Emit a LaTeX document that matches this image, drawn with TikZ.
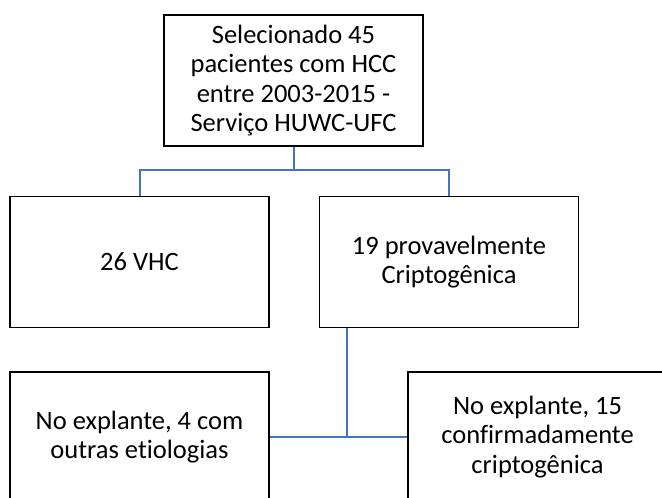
\documentclass[tikz,border=0pt]{standalone}
\usepackage{fontspec}
\setmainfont{Carlito}[Ligatures={NoCommon}]
\usepackage{tikz}
\usetikzlibrary{positioning}
\definecolor{linkblue}{HTML}{4472C4}

\begin{document}
\begin{tikzpicture}[
    x=1pt, y=-1pt,
    on grid,
    box/.style={draw=black, line width=1.6pt, fill=white,
        minimum width=259pt, minimum height=131pt,
        align=center, inner sep=0pt,
        font=\fontsize{26.5}{29.5}\selectfont},
    link/.style={draw=linkblue, line width=2pt}]
    \clip (0,0) rectangle (662,498);
    \fill[white] (0,0) rectangle (662,498);
       \node[box] (sel) at (293.5,80.5) {Selecionado 45\\pacientes com HCC\\entre 2003-2015 -\\Serviço HUWC-UFC};
       \node[box] (vhc) [below left=181.5pt and 154pt of sel] {26 VHC};
       \node[box] (crip) [right=309.5pt of vhc] {19 provavelmente\\Criptogênica};
       \node[box, minimum height=130pt] (outras) [below=175pt of vhc] {No explante, 4 com\\outras etiologias};
       \node[box, minimum height=130pt] (conf) [right=398pt of outras] {No explante, 15\\confirmadamente\\criptogênica};
       \coordinate (fork) at (293.5,170);
       \coordinate (join) at (346.5,437);
        \path[link]
        (sel.south) -- (fork)
        (vhc.north) |- (fork) -| (crip.north)
        (crip.south -| join) -- (join)
        (outras.east) -- (conf.west)
        ;
    \end{tikzpicture}
\end{document}
